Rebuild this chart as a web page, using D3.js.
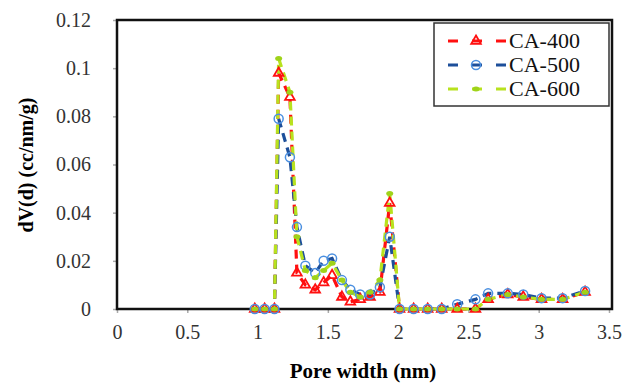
<!DOCTYPE html>
<html>
<head>
<meta charset="utf-8">
<script src="https://cdn.jsdelivr.net/npm/d3@7"></script>
<style>
  body { margin: 0; background: #fff; }
</style>
</head>
<body>
<div id="chart"></div>
<script>
// pore widths (nm), shared by all three samples
const poreWidth = [0.98, 1.05, 1.12, 1.15, 1.23, 1.28, 1.34, 1.41, 1.47, 1.53, 1.60, 1.66, 1.73, 1.80, 1.87, 1.94, 2.01, 2.11, 2.21, 2.31, 2.42, 2.55, 2.64, 2.78, 2.89, 3.02, 3.17, 3.33]

const ca400 = [0, 0, 0, 0.098, 0.088, 0.015, 0.010, 0.008, 0.011, 0.014, 0.005, 0.003, 0.004, 0.005, 0.007, 0.044, 0, 0, 0, 0, 0, 0, 0.004, 0.006, 0.005, 0.004, 0.004, 0.007]
const ca500 = [0, 0, 0, 0.079, 0.063, 0.034, 0.018, 0.015, 0.020, 0.021, 0.012, 0.008, 0.006, 0.006, 0.009, 0.030, 0, 0, 0, 0, 0.002, 0.004, 0.0065, 0.0065, 0.006, 0.0045, 0.0045, 0.0075]
const ca600 = [0, 0, 0, 0.104, 0.090, 0.030, 0.016, 0.013, 0.016, 0.019, 0.012, 0.007, 0.005, 0.007, 0.012, 0.048, 0, 0, 0, 0, 0, 0, 0.004, 0.006, 0.005, 0.004, 0.004, 0.007]

const seriesNames = ['CA-400', 'CA-500', 'CA-600']
const xTicks = [0, 0.5, 1, 1.5, 2, 2.5, 3, 3.5]
const yTicks = [0, 0.02, 0.04, 0.06, 0.08, 0.1, 0.12]

const series = [
    { name: seriesNames[0], values: ca400, line: '#ff1010', marker: 'triangle', mcolor: '#ff1010' },
    { name: seriesNames[1], values: ca500, line: '#1d4f9a', marker: 'circle', mcolor: '#4a8fe0' },
    { name: seriesNames[2], values: ca600, line: '#b8e21e', marker: 'dash', mcolor: '#9fd31a' }
]

const serif = '"Liberation Serif", "Times New Roman", Times, "DejaVu Serif", serif'

let width = 629
let height = 383
let margin = { left: 117, right: 17, top: 20, bottom: 74 }

let svg = d3.select('#chart')
            .append('svg')
            .attr('width', width)
            .attr('height', height)
            .attr('font-family', serif)

let x = d3.scaleLinear().domain([0, 3.5]).range([margin.left, width - margin.right - 3])
let y = d3.scaleLinear().domain([0, 0.12]).range([height - margin.bottom, margin.top])

// axes (ticks outside, grey)
let xAxis = svg.append('g')
    .attr('transform', `translate(0,${y(0)})`)
    .call(d3.axisBottom(x).tickValues(xTicks).tickSize(4).tickPadding(12).tickFormat(d => d))
let yAxis = svg.append('g')
    .attr('transform', `translate(${x(0)},0)`)
    .call(d3.axisLeft(y).tickValues(yTicks).tickSize(4).tickPadding(22).tickFormat(d => d))

for (let ax of [xAxis, yAxis]) {
    ax.attr('font-family', serif)
    ax.select('.domain').remove()
    ax.selectAll('.tick line').attr('stroke', '#aaa').attr('stroke-width', 1.5)
    ax.selectAll('.tick text').attr('font-size', 20).attr('fill', '#333')
}

// plot frame
svg.append('rect')
    .attr('x', x(0))
    .attr('y', y(0.12))
    .attr('width', width - margin.right - x(0))
    .attr('height', y(0) - y(0.12))
    .attr('fill', 'none')
    .attr('stroke', '#111')
    .attr('stroke-width', 2.5)

// axis titles
svg.append('text')
    .attr('x', 363)
    .attr('y', 378)
    .attr('text-anchor', 'middle')
    .attr('font-size', 21)
    .attr('font-weight', 'bold')
    .text('Pore width (nm)')

svg.append('text')
    .attr('transform', 'translate(33,165) rotate(-90)')
    .attr('text-anchor', 'middle')
    .attr('font-size', 20)
    .attr('font-weight', 'bold')
    .text('dV(d) (cc/nm/g)')

let line = d3.line()
    .x((d, i) => x(poreWidth[i]))
    .y(d => y(d))

function drawMarker(g, type, color, cx, cy) {
    if (type === 'triangle') {
        g.append('path')
            .attr('d', d3.symbol(d3.symbolTriangle, 40)())
            .attr('transform', `translate(${cx},${cy})`)
            .attr('fill', 'none')
            .attr('stroke', color)
            .attr('stroke-width', 1.8)
    } else if (type === 'circle') {
        g.append('circle')
            .attr('cx', cx).attr('cy', cy).attr('r', 4.5)
            .attr('fill', 'none')
            .attr('stroke', color)
            .attr('stroke-width', 1.5)
    } else {
        g.append('ellipse')
            .attr('cx', cx).attr('cy', cy).attr('rx', 3.5).attr('ry', 2.5)
            .attr('fill', color)
    }
}

// draw series: lines first, then markers
series.forEach(s => {
    svg.append('path')
        .datum(s.values)
        .attr('d', line)
        .attr('fill', 'none')
        .attr('stroke', s.line)
        .attr('stroke-width', 3.2)
        .attr('stroke-dasharray', '9,6')
})
series.forEach(s => {
    let g = svg.append('g')
    s.values.forEach((v, i) => drawMarker(g, s.marker, s.mcolor, x(poreWidth[i]), y(v)))
})

// legend
let legend = svg.append('g')
legend.append('rect')
    .attr('x', 434).attr('y', 23)
    .attr('width', 175).attr('height', 83)
    .attr('fill', '#fff')
    .attr('stroke', '#333')
    .attr('stroke-width', 1.5)

series.forEach((s, i) => {
    let ly = 41 + i * 24
    legend.append('line')
        .attr('x1', 446).attr('x2', 508)
        .attr('y1', ly).attr('y2', ly)
        .attr('stroke', s.line)
        .attr('stroke-width', 3)
        .attr('stroke-dasharray', '10,14')
        .attr('stroke-dashoffset', -2)
    drawMarker(legend, s.marker, s.mcolor, 476, ly)
    legend.append('text')
        .attr('x', 509).attr('y', ly + 7)
        .attr('font-size', 22)
        .attr('fill', '#111')
        .text(s.name)
})
</script>
</body>
</html>
